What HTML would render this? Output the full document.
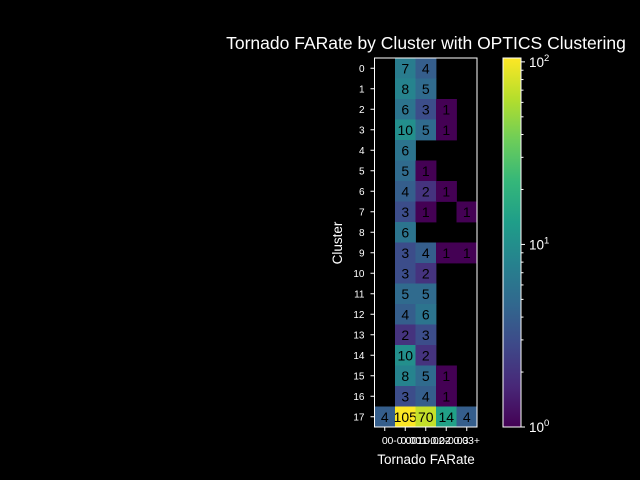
<!DOCTYPE html>
<html><head><meta charset="utf-8"><style>
body{margin:0;background:#000;}
svg{display:block;font-family:"Liberation Sans","DejaVu Sans",sans-serif;}
</style></head><body>
<svg id="c" width="640" height="480" xmlns="http://www.w3.org/2000/svg">
<rect width="640" height="480" fill="#000"/>
<text x="426" y="49" fill="#fff" font-size="17.5" text-anchor="middle">Tornado FARate by Cluster with OPTICS Clustering</text>
<text x="426" y="464" fill="#fff" font-size="13.5" text-anchor="middle">Tornado FARate</text>
<text x="342" y="243" fill="#fff" font-size="13.5" text-anchor="middle" transform="rotate(-90 342 243)">Cluster</text>
<g id="cells"></g>
<g id="axes"></g>
</svg>
<script>
const categories = ["0","0-0.001","0.001-0.02","0.02-0.03","0.03+"];
const clusters = ["0","1","2","3","4","5","6","7","8","9","10","11","12","13","14","15","16","17"];
const col0 = [null,null,null,null,null,null,null,null,null,null,null,null,null,null,null,null,null,4];
const col1 = [7,8,6,10,6,5,4,3,6,3,3,5,4,2,10,8,3,105];
const col2 = [4,5,3,5,null,1,2,1,null,4,2,5,6,3,2,5,4,70];
const col3 = [null,null,1,1,null,null,1,null,null,1,null,null,null,null,null,1,1,14];
const col4 = [null,null,null,null,null,null,null,1,null,1,null,null,null,null,null,null,null,4];
const series = [col0,col1,col2,col3,col4];
const cbTicks = [1,10,100];

const NS="http://www.w3.org/2000/svg";
const L=374.5,R=477,T=58,B=427;
const cw=(R-L)/categories.length, rh=(B-T)/clusters.length;
const vmin=1,vmax=105;
const xPos=i=>L+i*cw, yPos=j=>T+j*rh;
const cbY=v=>B-(Math.log10(v)-Math.log10(vmin))/(Math.log10(vmax)-Math.log10(vmin))*(B-T);
const vir=[[68,1,84],[72,40,120],[62,73,137],[49,104,142],[38,130,142],[31,158,137],[53,183,121],[109,205,89],[180,222,44],[253,231,37]];
function color(v){let t=(Math.log10(v)-Math.log10(vmin))/(Math.log10(vmax)-Math.log10(vmin));t=Math.max(0,Math.min(1,t));
 const p=t*(vir.length-1),i=Math.min(Math.floor(p),vir.length-2),f=p-i;
 const c=vir[i].map((a,k)=>Math.round(a+(vir[i+1][k]-a)*f));return `rgb(${c})`;}
function mk(tag,attrs,parent){const e=document.createElementNS(NS,tag);for(const k in attrs)e.setAttribute(k,attrs[k]);parent.appendChild(e);return e;}
const cells=document.getElementById('cells'), axes=document.getElementById('axes');
series.forEach((col,i)=>col.forEach((v,j)=>{
 if(v==null)return;
 const r=mk('rect',{x:xPos(i),y:yPos(j),width:cw+0.4,height:rh+0.4,fill:color(v)},cells);
 
 
 const t=mk('text',{x:xPos(i)+cw/2,y:yPos(j)+rh/2+5,'font-size':14,'text-anchor':'middle',fill:'#000'},cells);
 t.textContent=v;
 
 
}));
const fr=mk('rect',{x:L,y:T,width:R-L,height:B-T,fill:'none',stroke:'#fff','stroke-width':1},axes);


categories.forEach((c,i)=>{
 const x=xPos(i)+cw/2;
 mk('line',{x1:x,y1:B,x2:x,y2:B+4,stroke:'#fff'},axes);
 const t=mk('text',{x:x,y:B+17,'font-size':10.5,'text-anchor':'middle',fill:'#fff'},axes);
 t.textContent=c;
 
 
});
clusters.forEach((c,j)=>{
 const y=yPos(j)+rh/2;
 mk('line',{x1:L,y1:y,x2:L-4,y2:y,stroke:'#fff'},axes);
 const t=mk('text',{x:L-10,y:y+3.5,'font-size':10,'text-anchor':'end',fill:'#fff'},axes);
 t.textContent=c;
 
 
});
const cbL=503,cbW=18;
const defs=mk('defs',{},axes);
const g=mk('linearGradient',{id:'vg',x1:0,y1:1,x2:0,y2:0},defs);
vir.forEach((c,k)=>mk('stop',{offset:k/(vir.length-1),'stop-color':`rgb(${c})`},g));
const cb=mk('rect',{x:cbL,y:T,width:cbW,height:B-T,fill:'url(#vg)',stroke:'#fff','stroke-width':1},axes);


for(let d=1;d<=100;d*=10)for(let m=2;m<=9;m++){const v=d*m;if(v>vmax)break;const y=cbY(v);
 mk('line',{x1:cbL+cbW,y1:y,x2:cbL+cbW+2.5,y2:y,stroke:'#fff'},axes);}
cbTicks.forEach((v,k)=>{const y=cbY(v);
 mk('line',{x1:cbL+cbW,y1:y,x2:cbL+cbW+4,y2:y,stroke:'#fff'},axes);
 const t=mk('text',{x:cbL+cbW+8,y:y+5,'font-size':13.5,fill:'#fff'},axes);
 t.innerHTML='10<tspan dy="-6" font-size="9.5">'+k+'</tspan>';
 
 
});
</script>
</body></html>
